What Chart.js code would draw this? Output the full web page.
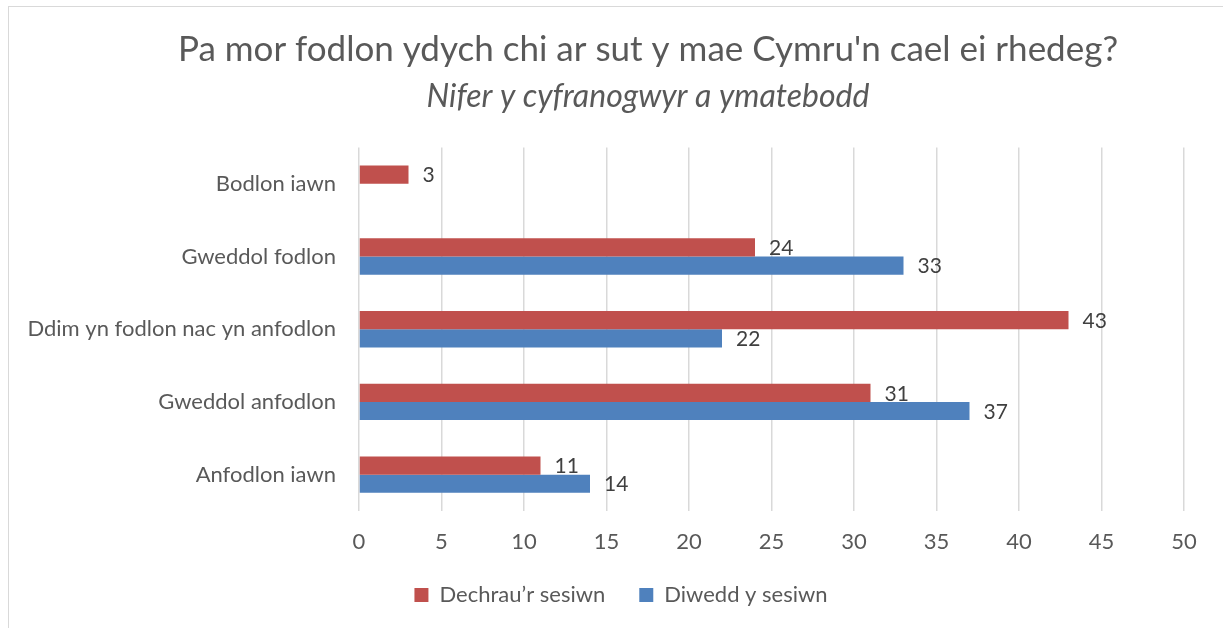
<!DOCTYPE html>
<html>
<head>
<meta charset="utf-8">
<script src="https://cdn.jsdelivr.net/npm/chart.js@4.4.0/dist/chart.umd.min.js"></script>
<style>
  html, body { margin: 0; padding: 0; background: #fff; }
  #wrap { position: absolute; left: 0; top: 0; width: 1223px; height: 628px; }
  #frame { position: absolute; left: 8px; top: 6px; width: 1240px; height: 640px;
           border: 1px solid #d9d9d9; pointer-events: none; }
</style>
</head>
<body>
<div id="wrap"><canvas id="chart"></canvas></div>
<div id="frame"></div>
<script>
// categories, top to bottom
const categories = ['Bodlon iawn', 'Gweddol fodlon', 'Ddim yn fodlon nac yn anfodlon', 'Gweddol anfodlon', 'Anfodlon iawn'];
const seriesNames = ['Dechrau\u2019r sesiwn', 'Diwedd y sesiwn'];
const startValues = [3, 24, 43, 31, 11];
const endValues = [null, 33, 22, 37, 14];
const xTicks = [0, 5, 10, 15, 20, 25, 30, 35, 40, 45, 50];

const FONT = 'Lato';
const TEXT = '#595959';

// value labels next to the bar ends
const barLabels = {
    id: 'barLabels',
    afterDatasetsDraw(chart) {
        const ctx = chart.ctx;
        ctx.save();
        ctx.font = '21px ' + FONT;
        ctx.fillStyle = '#404040';
        ctx.textAlign = 'left';
        ctx.textBaseline = 'middle';
        chart.data.datasets.forEach((ds, i) => {
            const meta = chart.getDatasetMeta(i);
            meta.data.forEach((bar, j) => {
                const v = ds.data[j];
                if (v === null || v === undefined) return;
                ctx.fillText(String(v), bar.x + 14, bar.y + 1);
            });
        });
        ctx.restore();
    }
};

// title/subtitle and legend are not centred on the canvas in the original
const shiftBoxes = {
    id: 'shiftBoxes',
    afterLayout(chart) {
        chart.boxes.forEach(box => {
            let dx = 0;
            if (box === chart.legend) dx = 29;
            else if (box.options && box.options.text !== undefined) dx = 56;
            box.left += dx;
            box.right += dx;
        });
    }
};

document.addEventListener('DOMContentLoaded', function() {
    const ctx = document.getElementById('chart').getContext('2d');
    new Chart(ctx, {
        type: 'bar',
        data: {
            labels: categories,
            datasets: [{
                label: seriesNames[0],
                data: startValues,
                backgroundColor: '#C0504D',
                barPercentage: 1,
                categoryPercentage: 0.5
            }, {
                label: seriesNames[1],
                data: endValues,
                backgroundColor: '#4F81BD',
                barPercentage: 1,
                categoryPercentage: 0.5
            }]
        },
        options: {
            indexAxis: 'y',
            responsive: true,
            maintainAspectRatio: false,
            animation: false,
            layout: { padding: { left: 0, right: 39, top: 0, bottom: 12 } },
            scales: {
                x: {
                    min: 0,
                    max: 50,
                    afterBuildTicks: function(axis) {
                        axis.ticks = xTicks.map(v => ({ value: v }));
                    },
                    afterFit: function(axis) { axis.height = 39; },
                    grid: { color: '#d9d9d9', lineWidth: 1.5, drawTicks: false },
                    border: { display: false },
                    ticks: { color: TEXT, font: { family: FONT, size: 22 }, padding: 17.5 }
                },
                y: {
                    afterFit: function(axis) { axis.width = 359; },
                    grid: { display: false, drawTicks: false },
                    border: { display: false },
                    ticks: { color: TEXT, font: { family: FONT, size: 22 }, padding: 23 }
                }
            },
            plugins: {
                title: {
                    display: true,
                    text: 'Pa mor fodlon ydych chi ar sut y mae Cymru\'n cael ei rhedeg?',
                    color: TEXT,
                    font: { family: FONT, size: 35, weight: 'normal' },
                    padding: { top: 29, bottom: 4 }
                },
                subtitle: {
                    display: true,
                    text: 'Nifer y cyfranogwyr a ymatebodd',
                    color: TEXT,
                    font: { family: FONT, size: 32, style: 'italic' },
                    padding: { top: 2, bottom: 32 }
                },
                legend: {
                    position: 'bottom',
                    labels: {
                        color: TEXT,
                        font: { family: FONT, size: 22 },
                        boxWidth: 14,
                        boxHeight: 14,
                        padding: 34
                    }
                },
                tooltip: { enabled: false }
            }
        },
        plugins: [barLabels, shiftBoxes]
    });
});
</script>
</body>
</html>
